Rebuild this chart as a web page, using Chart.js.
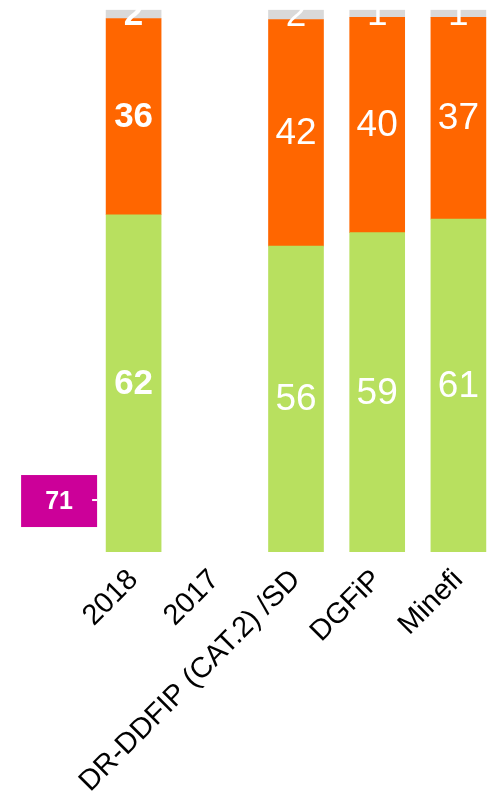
<!DOCTYPE html>
<html>
<head>
<meta charset="utf-8">
<script src="https://cdn.jsdelivr.net/npm/chart.js@4"></script>
<style>
  html, body { margin: 0; padding: 0; background: #fff; overflow: hidden; }
  #wrap { width: 489px; height: 793px; overflow: hidden; }
</style>
</head>
<body>
<div id="wrap"><canvas id="c" width="499" height="793" style="width:499px;height:793px"></canvas></div>
<script>
const categories = ["2018", "2017", "DR-DDFIP (CAT.2) /SD", "DGFiP", "Minefi"];
// shares in % (labels show them rounded)
const favorable = [62.2, null, 56.4, 58.9, 61.4];
const defavorable = [36.2, null, 41.8, 39.7, 37.2];
const sansAvis = [1.6, null, 1.8, 1.4, 1.4];
const cible = ["71"];

// white value labels in the middle of each segment, bold for the first bar
const segmentLabels = {
  id: "segmentLabels",
  afterDatasetsDraw(chart) {
    const ctx = chart.ctx;
    ctx.save();
    ctx.fillStyle = "#fff";
    ctx.textAlign = "center";
    ctx.textBaseline = "middle";
    chart.data.datasets.forEach((ds, di) => {
      const meta = chart.getDatasetMeta(di);
      meta.data.forEach((bar, i) => {
        const v = ds.data[i];
        if (v == null) return;
        ctx.font = (i === 0 ? "bold 35px" : "37px") + " 'Liberation Sans', Arial, sans-serif";
        ctx.fillText(String(Math.round(v)), bar.x, (bar.y + bar.base) / 2 + 1);
      });
    });

    // magenta marker box left of the 2018 bar
    const x0 = chart.scales.x.getPixelForValue(0);
    const yc = chart.scales.y.getPixelForValue(9.4);
    const right = x0 - 36.5, w = 76, h = 52;
    ctx.fillStyle = "#cc0099";
    ctx.fillRect(right - w, yc - h / 2, w, h);
    ctx.fillStyle = "#fff";
    ctx.font = "bold 25px 'Liberation Sans', Arial, sans-serif";
    ctx.fillText(cible[0], right - w + 38, yc + 1);
    ctx.fillRect(right - 5, yc - 2, 5, 2);
    ctx.restore();
  }
};

new Chart(document.getElementById("c"), {
  type: "bar",
  data: {
    labels: categories,
    datasets: [
      { label: "Favorable", data: favorable, backgroundColor: "#b8e05f" },
      { label: "Défavorable", data: defavorable, backgroundColor: "#ff6600" },
      { label: "Sans avis", data: sansAvis, backgroundColor: "#d9d9d9" },
    ],
  },
  options: {
    responsive: false,
    animation: false,
    layout: { padding: { left: 93, top: 9.8, right: 0, bottom: 0 } },
    datasets: { bar: { barThickness: 55, borderWidth: 0 } },
    scales: {
      x: {
        stacked: true,
        grid: { display: false },
        border: { display: false },
        ticks: {
          color: "#000",
          font: { family: "'Liberation Sans', Arial, sans-serif", size: 29 },
          minRotation: 45,
          maxRotation: 45,
          autoSkip: false,
        },
        afterFit: (scale) => { scale.height = 241; },
      },
      y: { stacked: true, display: false, min: 0, max: 100 },
    },
    plugins: { legend: { display: false }, tooltip: { enabled: false } },
  },
  plugins: [segmentLabels],
});
</script>
</body>
</html>
